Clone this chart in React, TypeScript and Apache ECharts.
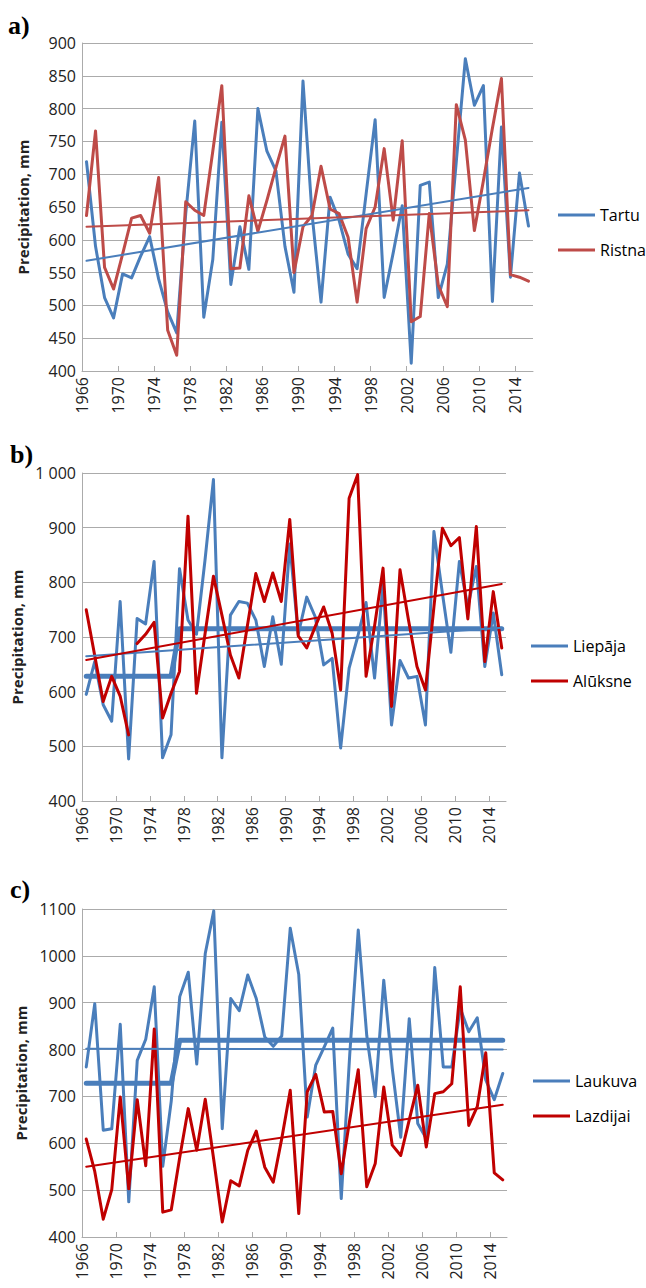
import React, { useEffect, useRef } from "react";
import * as echarts from "echarts";

// ---------- categories ----------
const years = [
  "1966","1967","1968","1969","1970","1971","1972","1973","1974","1975",
  "1976","1977","1978","1979","1980","1981","1982","1983","1984","1985",
  "1986","1987","1988","1989","1990","1991","1992","1993","1994","1995",
  "1996","1997","1998","1999","2000","2001","2002","2003","2004","2005",
  "2006","2007","2008","2009","2010","2011","2012","2013","2014","2015",
];
// tick labels sit on category boundaries (one more boundary than categories)
const tickYears = [...years, "2016"];

// ---------- panel a (Estonia) ----------
const tartu = [
  719, 590, 512, 481, 548, 542, 575, 605, 540, 490,
  458, 640, 781, 482, 570, 779, 532, 620, 555, 800,
  735, 705, 590, 520, 842, 640, 505, 665, 630, 578,
  556, 670, 783, 512, 580, 652, 412, 683, 688, 512,
  563, 720, 876, 805, 835, 506, 772, 543, 702, 621,
];
const ristna = [
  637, 766, 558, 525, 578, 633, 637, 610, 695, 462,
  424, 658, 645, 637, 735, 835, 556, 557, 667, 613,
  660, 710, 758, 550, 620, 637, 712, 647, 640, 604,
  505, 617, 650, 739, 630, 751, 475, 483, 640, 531,
  498, 806, 752, 614, 690, 770, 846, 547, 543, 537,
];
const tartuTrend = [568, 679];
const ristnaTrend = [620, 645];

// ---------- panel b (Latvia) ----------
const liepaja = [
  595, 655, 576, 546, 765, 477, 734, 724, 838, 479,
  521, 825, 731, 705, 840, 988, 479, 740, 765, 762,
  731, 646, 737, 650, 870, 705, 773, 737, 649, 661,
  497, 643, 700, 763, 625, 797, 539, 657, 625, 628,
  539, 893, 780, 672, 838, 755, 829, 646, 744, 631,
];
const aluksne = [
  750, 666, 582, 628, 592, 521, 688, 705, 727, 552,
  597, 637, 921, 597, 705, 811, 740, 667, 625, 720,
  816, 765, 817, 765, 915, 702, 680, 719, 755, 707,
  603, 954, 997, 628, 720, 826, 573, 823, 731, 646,
  603, 755, 899, 867, 882, 733, 902, 655, 783, 680,
];
const aluksneBreakAfter = "1971";
const liepajaTrend = [665, 717];
const aluksneTrend = [658, 797];
const liepajaStepLevels = [628, 715];
const liepajaStepStart = "1977";

// ---------- panel c (Lithuania) ----------
const laukuva = [
  763, 898, 628, 631, 854, 475, 777, 822, 934, 551,
  690, 913, 965, 769, 1005, 1096, 631, 909, 883, 959,
  909, 827, 807, 829, 1059, 960, 656, 767, 806, 846,
  482, 790, 1055, 830, 700, 948, 760, 613, 866, 642,
  610, 975, 763, 763, 888, 838, 868, 735, 693, 749,
];
const lazdijai = [
  609, 540, 438, 501, 699, 503, 693, 552, 844, 453,
  458, 570, 674, 585, 694, 565, 432, 520, 509, 585,
  626, 549, 517, 610, 713, 450, 710, 747, 667, 668,
  535, 650, 757, 507, 557, 720, 596, 574, 650, 724,
  592, 706, 710, 727, 934, 638, 678, 793, 537, 522,
];
const laukuvaTrend = [802, 800];
const lazdijaiTrend = [550, 682];
const laukuvaStepLevels = [728, 820];
const laukuvaStepStart = "1977";

// ---------- styling ----------
const BLUE = "#4A7EBB";
const RED_A = "#BE4B48";
const RED_BC = "#C00000";
const GRID_GRAY = "#ABABAB";
const TEXT = "#222222";
const FONT = "Open Sans";

const gridBoxes = [
  { left: 82, top: 43, width: 451, height: 328 },
  { left: 82, top: 473, width: 424, height: 328 },
  { left: 82, top: 909, width: 425, height: 328 },
];

const yRanges = [
  { min: 400, max: 900, interval: 50 },
  { min: 400, max: 1000, interval: 100 },
  { min: 400, max: 1100, interval: 100 },
];

function trendData(v: number[]) {
  return [
    [years[0], v[0]],
    [years[years.length - 1], v[1]],
  ];
}

function stepData(levels: number[], start: string) {
  const k = years.indexOf(start);
  return years.map((y, i) => [y, i < k ? levels[0] : levels[1]]);
}

function lineSeries(name: string, p: number, data: any[], color: string, width: number, z = 2) {
  return {
    type: "line",
    name,
    xAxisIndex: p * 2,
    yAxisIndex: p,
    data,
    symbol: "none",
    showSymbol: false,
    connectNulls: false,
    lineStyle: { color, width, cap: "round", join: "round" },
    itemStyle: { color },
    z,
    silent: true,
  };
}

export default function App() {
  const ref = useRef<HTMLDivElement>(null);

  useEffect(() => {
    document.body.style.margin = "0";
    const chart = echarts.init(ref.current!, null, { renderer: "svg" });

    const grid = gridBoxes.map((g) => ({ ...g, containLabel: false, outerBoundsMode: "none" }));

    const xAxis: any[] = [];
    gridBoxes.forEach((_, p) => {
      xAxis.push({
        type: "category",
        gridIndex: p,
        data: years,
        boundaryGap: true,
        position: "bottom",
        show: false,
      });
      xAxis.push({
        type: "category",
        gridIndex: p,
        data: tickYears,
        boundaryGap: false,
        position: "bottom",
        axisLine: { show: true, lineStyle: { color: GRID_GRAY, width: 1 } },
        axisTick: { show: true, inside: true, length: 5, interval: 3, lineStyle: { color: GRID_GRAY } },
        axisLabel: { interval: 3, rotate: 90, margin: 6, fontSize: 16, fontFamily: FONT, color: TEXT },
        splitLine: { show: false },
      });
    });

    const yAxis = yRanges.map((r, p) => ({
      type: "value",
      gridIndex: p,
      min: r.min,
      max: r.max,
      interval: r.interval,
      name: "Precipitation, mm",
      nameLocation: "middle",
      nameRotate: 90,
      nameGap: 52,
      nameTextStyle: { fontWeight: "bold", fontSize: 15, fontFamily: FONT, color: TEXT },
      axisLine: { show: true, lineStyle: { color: GRID_GRAY, width: 1 } },
      axisTick: { show: false },
      axisLabel: {
        margin: 6,
        fontSize: 16,
        fontFamily: FONT,
        color: TEXT,
        formatter: (v: number) =>
          p === 1 ? String(v).replace(/\B(?=(\d{3})+(?!\d))/g, " ") : String(v),
      },
      splitLine: { show: true, lineStyle: { color: GRID_GRAY, width: 1 } },
    }));

    const bi = years.indexOf(aluksneBreakAfter);
    const aluksneA = years.map((y, i) => [y, i <= bi ? aluksne[i] : null]);
    const aluksneB = years.map((y, i) => [y, i > bi ? aluksne[i] : null]);

    const series: any[] = [
      // panel a
      lineSeries("Tartu", 0, years.map((y, i) => [y, tartu[i]]), BLUE, 3, 2),
      lineSeries("Ristna", 0, years.map((y, i) => [y, ristna[i]]), RED_A, 3, 3),
      lineSeries("Tartu trend", 0, trendData(tartuTrend), BLUE, 2, 4),
      lineSeries("Ristna trend", 0, trendData(ristnaTrend), RED_A, 2, 4),
      // panel b
      lineSeries("Liepāja", 1, years.map((y, i) => [y, liepaja[i]]), BLUE, 3, 2),
      lineSeries("Liepāja step", 1, stepData(liepajaStepLevels, liepajaStepStart), BLUE, 5, 3),
      lineSeries("Alūksne", 1, aluksneA, RED_BC, 3, 4),
      lineSeries("Alūksne", 1, aluksneB, RED_BC, 3, 4),
      lineSeries("Liepāja trend", 1, trendData(liepajaTrend), BLUE, 2, 5),
      lineSeries("Alūksne trend", 1, trendData(aluksneTrend), RED_BC, 2, 5),
      // panel c
      lineSeries("Laukuva", 2, years.map((y, i) => [y, laukuva[i]]), BLUE, 3, 2),
      lineSeries("Laukuva step", 2, stepData(laukuvaStepLevels, laukuvaStepStart), BLUE, 5, 3),
      lineSeries("Lazdijai", 2, years.map((y, i) => [y, lazdijai[i]]), RED_BC, 3, 4),
      lineSeries("Laukuva trend", 2, trendData(laukuvaTrend), BLUE, 2, 5),
      lineSeries("Lazdijai trend", 2, trendData(lazdijaiTrend), RED_BC, 2, 5),
    ];

    const legendBase = {
      orient: "vertical",
      icon: "rect",
      itemWidth: 37,
      itemHeight: 3,
      itemGap: 19,
      selectedMode: false,
      textStyle: { fontSize: 16, lineHeight: 16, fontFamily: FONT, color: "#000" },
    };

    const panelLabel = (txt: string, x: number, y: number) => ({
      type: "text",
      x,
      y,
      style: {
        text: txt,
        fontSize: 26,
        fontWeight: "bold",
        fontFamily: "Liberation Serif",
        fill: "#000",
        verticalAlign: "middle",
        align: "left",
      },
    });

    chart.setOption({
      animation: false,
      backgroundColor: "#ffffff",
      grid,
      xAxis,
      yAxis,
      series,
      legend: [
        { ...legendBase, data: ["Tartu", "Ristna"], left: 553, top: 202 },
        { ...legendBase, data: ["Liepāja", "Alūksne"], left: 526, top: 633 },
        { ...legendBase, data: ["Laukuva", "Lazdijai"], left: 528, top: 1068 },
      ],
      graphic: [
        panelLabel("a)", 8, 25),
        panelLabel("b)", 10, 454),
        panelLabel("c)", 10, 889),
      ],
    });

    return () => chart.dispose();
  }, []);

  return <div ref={ref} style={{ width: 646, height: 1288 }} />;
}
